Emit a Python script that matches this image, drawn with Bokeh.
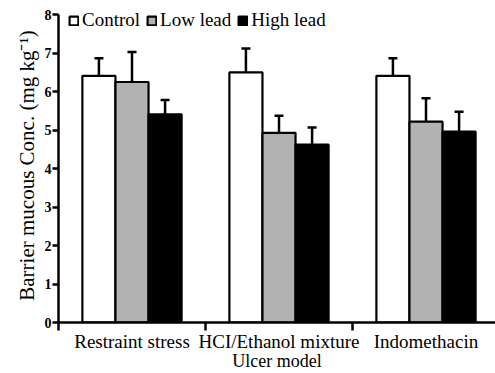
from bokeh.plotting import figure
from bokeh.models import ColumnDataSource, Range1d, FixedTicker, Whisker, TeeHead, Legend, LegendItem
from bokeh.embed import file_html
from bokeh.resources import INLINE

groups = ["Restraint stress", "HCI/Ethanol mixture", "Indomethacin"]
series = ["Control", "Low lead", "High lead"]
control = [6.41, 6.50, 6.41]
control_err = [0.46, 0.62, 0.46]
low_lead = [6.25, 4.93, 5.22]
low_lead_err = [0.78, 0.44, 0.61]
high_lead = [5.41, 4.62, 4.96]
high_lead_err = [0.37, 0.45, 0.52]
y_ticks = [0, 1, 2, 3, 4, 5, 6, 7, 8]

colors = ["white", "#b2b2b2", "black"]
offsets = [-0.225, 0.0, 0.225]
values = [control, low_lead, high_lead]
errors = [control_err, low_lead_err, high_lead_err]

FONT = "Liberation Serif"

p = figure(width=495, height=373, output_backend="svg", toolbar_location=None,
           x_range=Range1d(0, 437 / 147), y_range=Range1d(0, 8.16),
           min_border_left=58, min_border_right=0, min_border_top=8, min_border_bottom=51)
p.outline_line_color = None
p.xgrid.visible = False
p.ygrid.visible = False

items = []
for name, vals, errs, col, off in zip(series, values, errors, colors, offsets):
    xs = [i + 0.5 + off for i in range(len(groups))]
    src = ColumnDataSource(dict(x=xs, top=vals,
                                upper=[v + e for v, e in zip(vals, errs)]))
    w = Whisker(source=src, base="x", lower="top", upper="upper", dimension="height",
                line_width=2.5, line_color="black",
                lower_head=None, upper_head=TeeHead(size=9, line_width=2.5, line_color="black"))
    p.add_layout(w)
    r = p.vbar(x="x", top="top", width=0.225, source=src, fill_color=col,
               line_color="black", line_width=2.2)
    items.append(LegendItem(label=name, renderers=[r]))

legend = Legend(items=items, orientation="horizontal", location=(10, 291),
                padding=0, margin=0, spacing=6, label_standoff=3,
                glyph_width=11, glyph_height=11,
                label_text_font=FONT, label_text_font_size="19px",
                label_text_color="black",
                background_fill_alpha=0, border_line_color=None)
p.add_layout(legend, "center")

# y axis
ya = p.yaxis[0]
ya.ticker = FixedTicker(ticks=y_ticks)
ya.bounds = (0, 8)
ya.minor_tick_line_color = None
ya.major_tick_out = 6
ya.major_tick_in = 0
ya.major_tick_line_width = 2.5
ya.axis_line_width = 2.5
ya.major_label_text_font = FONT
ya.major_label_text_font_style = "bold"
ya.major_label_text_font_size = "14px"
ya.major_label_text_color = "black"
ya.major_label_standoff = 1
ya.axis_label = "Barrier mucous Conc. (mg kg\u207b\u00b9)"
ya.axis_label_text_font = FONT
ya.axis_label_text_font_style = "normal"
ya.axis_label_text_font_size = "21px"
ya.axis_label_text_color = "black"
ya.axis_label_standoff = 3

# x axis
xa = p.xaxis[0]
centers = [i + 0.5 for i in range(len(groups))]
xa.ticker = FixedTicker(ticks=centers, minor_ticks=[0, 1, 2])
xa.major_label_overrides = {c: g for c, g in zip(centers, groups)}
xa.major_tick_out = 0
xa.major_tick_in = 0
xa.minor_tick_out = 8
xa.minor_tick_in = 0
xa.minor_tick_line_width = 2.5
xa.minor_tick_line_color = "black"
xa.axis_line_width = 2.5
xa.major_label_text_font = FONT
xa.major_label_text_font_size = "19px"
xa.major_label_text_color = "black"
xa.major_label_standoff = 0
xa.axis_label = "Ulcer model"
xa.axis_label_text_font = FONT
xa.axis_label_text_font_style = "normal"
xa.axis_label_text_font_size = "18px"
xa.axis_label_text_color = "black"
xa.axis_label_standoff = -4

open("out.html", "w").write(file_html(p, INLINE))
